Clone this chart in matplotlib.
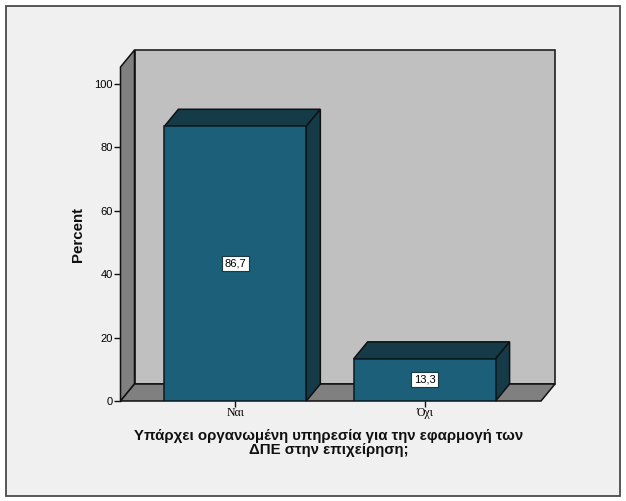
import matplotlib
matplotlib.use("Agg")
import matplotlib.pyplot as plt
from matplotlib.patches import Polygon, Rectangle
from matplotlib.transforms import ScaledTranslation

categories = ["Ναι", "Όχι"]
percents = [86.7, 13.3]
value_labels = ["86,7", "13,3"]
yticks = [0, 20, 40, 60, 80, 100]
xlabel = "Υπάρχει οργανωμένη υπηρεσία για την εφαρμογή των\nΔΠΕ στην επιχείρηση;"
ylabel = "Percent"

W, H = 626, 501
dpi = 100
depth_x, depth_y = 14, 17  # 3d offset in pixels

fig = plt.figure(figsize=(W / dpi, H / dpi), dpi=dpi, facecolor="white")

# grey panel with the dark frame around it
fig.patches.append(Rectangle((5.5 / W, 1 - 495.5 / H), 614.5 / W, 490 / H, transform=fig.transFigure,
                             facecolor="#f0f0f0", edgecolor="#4a4a4a", linewidth=1.3, zorder=-1))

ax = fig.add_axes([120.5 / W, 1 - 401 / H, 420.5 / W, 334 / H])
ax.set_xlim(-0.607, 1.615)
ax.set_ylim(0, 105.4)
ax.patch.set_visible(False)
for s in ax.spines.values():
    s.set_visible(False)

xmin, xmax = ax.get_xlim()
ymin, ymax = ax.get_ylim()
back = ScaledTranslation(depth_x / dpi, depth_y / dpi, fig.dpi_scale_trans)
back_t = ax.transData + back


def depth_poly(p0, p1, color, z):
    # side face going from the front edge p0-p1 to the back plane
    fx, fy = ax.transData.transform([p0, p1]).T
    pts = [(fx[0], fy[0]), (fx[1], fy[1]), (fx[1] + depth_x, fy[1] + depth_y), (fx[0] + depth_x, fy[0] + depth_y)]
    ax.add_patch(Polygon(pts, closed=True, transform=None, facecolor=color, edgecolor="#101010",
                         linewidth=1.1, zorder=z, clip_on=False))


# back wall, left wall, floor
ax.add_patch(Rectangle((xmin, ymin), xmax - xmin, ymax - ymin, transform=back_t, facecolor="#c0c0c0",
                       edgecolor="#202020", linewidth=1.2, zorder=1, clip_on=False))
depth_poly((xmin, ymin), (xmin, ymax), "#808080", 2)
depth_poly((xmin, ymin), (xmax, ymin), "#808080", 2)

width = 0.75
for i, p in enumerate(percents):
    x0, x1 = i - width / 2, i + width / 2
    depth_poly((x0, p), (x1, p), "#153b48", 3)
    depth_poly((x1, 0), (x1, p), "#153b48", 3)
    ax.bar(i, p, width=width, color="#1c5f78", edgecolor="#0a1a20", linewidth=1.1, zorder=4)
    ax.text(i, p / 2, value_labels[i], ha="center", va="center", fontsize=8, family="Liberation Sans", color="black", zorder=6,
            bbox=dict(boxstyle="square,pad=0.22", facecolor="white", edgecolor="#1a3a46", linewidth=0.8))

ax.set_yticks(yticks)
ax.set_xticks(range(len(categories)))
ax.set_xticklabels(categories, family="Liberation Serif", fontsize=8.5)
ax.tick_params(axis="y", length=5, width=1, pad=0.5, labelsize=8, color="#101010")
ax.tick_params(axis="x", length=4, width=1, pad=0.5, color="#101010")
for t in ax.get_yticklabels():
    t.set_family("Liberation Sans")

fig.text(329 / W, 1 - 443 / H, xlabel, ha="center", va="center", fontsize=10.8, fontweight="bold",
         family="Liberation Sans", linespacing=1.0, color="#101010")
fig.text(78 / W, 1 - 234 / H, ylabel, ha="center", va="center", rotation=90, fontsize=10.8, fontweight="bold",
         family="Liberation Sans", color="#101010")

fig.savefig("out.png", dpi=dpi, facecolor=fig.get_facecolor())
